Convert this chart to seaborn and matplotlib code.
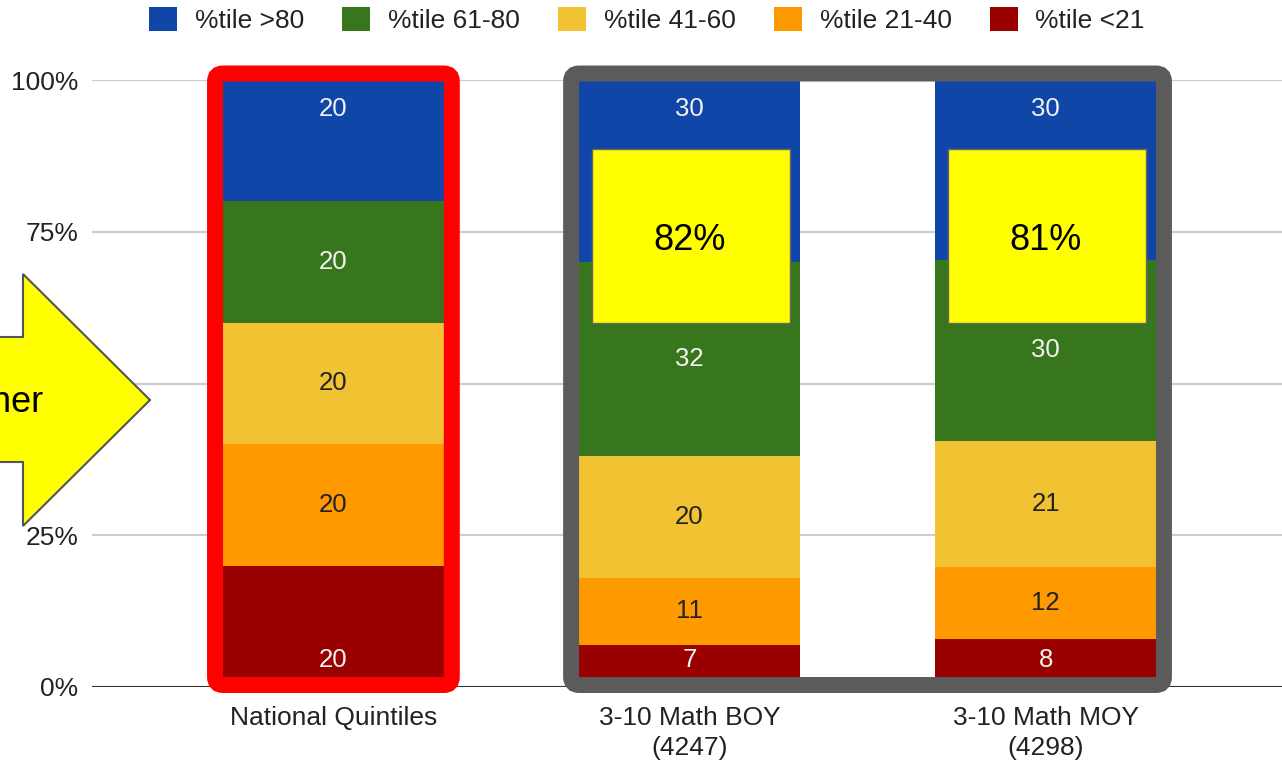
import numpy as np
import pandas as pd
import seaborn as sns
import matplotlib.pyplot as plt
from matplotlib.patches import FancyBboxPatch, Rectangle, Polygon
from matplotlib.transforms import IdentityTransform

# --- data ---
categories = ["National Quintiles", "3-10 Math BOY\n(4247)", "3-10 Math MOY\n(4298)"]
series = ["%tile >80", "%tile 61-80", "%tile 41-60", "%tile 21-40", "%tile <21"]
above80 = [20, 30, 30]
p61_80 = [20, 32, 30]
p41_60 = [20, 20, 21]
p21_40 = [20, 11, 12]
below21 = [20, 7, 8]
highlight = [None, 82, 81]   # share at or above the 41st percentile

colors = ["#1046a8", "#38761d", "#f1c232", "#ff9900", "#990000"]
label_colors = ["#f2f2f2", "#f2f2f2", "#222222", "#222222", "#f2f2f2"]

sns.set_style("white")
plt.rcParams['font.family'] = ['Liberation Sans', 'DejaVu Sans']

W, H = 1282, 764
fig = plt.figure(figsize=(W / 100, H / 100), dpi=100)
ax = fig.add_axes([92 / W, 77 / H, 1 - 92 / W, 607 / H])

values = np.array([above80, p61_80, p41_60, p21_40, below21], dtype=float)
shares = values / values.sum(axis=0) * 100          # 100% stacked
tops = np.cumsum(shares[::-1], axis=0)[::-1]
bottoms = tops - shares

# stacked bars: draw cumulative heights from the top segment down
bar_w = 0.62
for i, name in enumerate(series):
    df = pd.DataFrame({"cat": categories, "top": tops[i]})
    sns.barplot(data=df, x="cat", y="top", color=colors[i], label=name,
                width=bar_w, saturation=1, errorbar=None, ax=ax, zorder=2,
                edgecolor="none", linewidth=0)

# segment labels
for i in range(len(series)):
    for j in range(len(categories)):
        y = (tops[i, j] + bottoms[i, j]) / 2
        if i == 0:
            y = 95.2
        elif i == len(series) - 1:
            y = 4.4
        ax.text(j, y, f"{values[i, j]:.0f}", ha="center", va="center",
                fontsize=18.5, color=label_colors[i], zorder=6)

ax.set_xlim(-0.678, 2.664)
ax.set_ylim(0, 100)
ax.set_yticks([0, 25, 50, 75, 100])
ax.set_yticklabels(["0%", "25%", "50%", "75%", "100%"])
ax.set_xlabel("")
ax.set_ylabel("")
ax.grid(axis="y", color="#cccccc", lw=1.5)
ax.grid(axis="x", visible=False)
ax.set_axisbelow(True)
for s in ax.spines.values():
    s.set_visible(False)
ax.axhline(0, color="#333333", lw=1.5, zorder=3)
ax.tick_params(axis="both", length=0, labelsize=19, colors="#222222")
ax.tick_params(axis="x", pad=14)
ax.tick_params(axis="y", pad=10)
for lab in ax.get_xticklabels():
    lab.set_linespacing(1.3)
if ax.get_legend() is not None:
    ax.get_legend().remove()

# highlight boxes
for j, pct in enumerate(highlight):
    if pct is None:
        continue
    ax.add_patch(Rectangle((j - 0.275, 60.0), 0.556, 28.7, facecolor="#ffff00",
                           edgecolor="#666666", lw=1, zorder=5))
    ax.text(j, 73.6, f"{pct}%", ha="center", va="center", fontsize=26,
            color="black", zorder=6)


# rounded frames around bar groups (pixel space)
def frame(j0, j1, color):
    x0, y0 = ax.transData.transform((j0 - bar_w / 2, 0))
    x1, y1 = ax.transData.transform((j1 + bar_w / 2, 100))
    x0, x1 = x0 - 8, x1 + 8
    y0, y1 = y0 + 2, y1 + 6.5
    p = FancyBboxPatch((x0, y0), x1 - x0, y1 - y0,
                       boxstyle="round,pad=0,rounding_size=8",
                       facecolor="none", edgecolor=color, lw=11.5,
                       transform=IdentityTransform(), clip_on=False, zorder=4)
    ax.add_patch(p)


frame(0, 0, "#ff0000")
frame(1, 2, "#5b5b5b")

# arrow on the left
pts = [(-10, 337), (23, 337), (23, 274), (150, 400), (23, 526), (23, 462), (-10, 462)]
pts = [(x, H - y) for x, y in pts]
fig.add_artist(Polygon(pts, closed=True, facecolor="#ffff00", edgecolor="#555555",
                       lw=1.5, transform=IdentityTransform(), zorder=6))
fig.text(43 / W, (H - 403) / H, "Higher", ha="right", va="center", fontsize=26,
         color="black", zorder=7)

# legend
handles, labels = ax.get_legend_handles_labels()
fig.legend(handles, labels, loc="center", bbox_to_anchor=(647 / W, 1 - 20 / H),
           ncol=5, frameon=False, fontsize=19, handlelength=1.05, handleheight=1.0,
           handletextpad=0.68, columnspacing=1.45, borderpad=0, labelcolor="#222222")

fig.savefig("out.png", dpi=100)
